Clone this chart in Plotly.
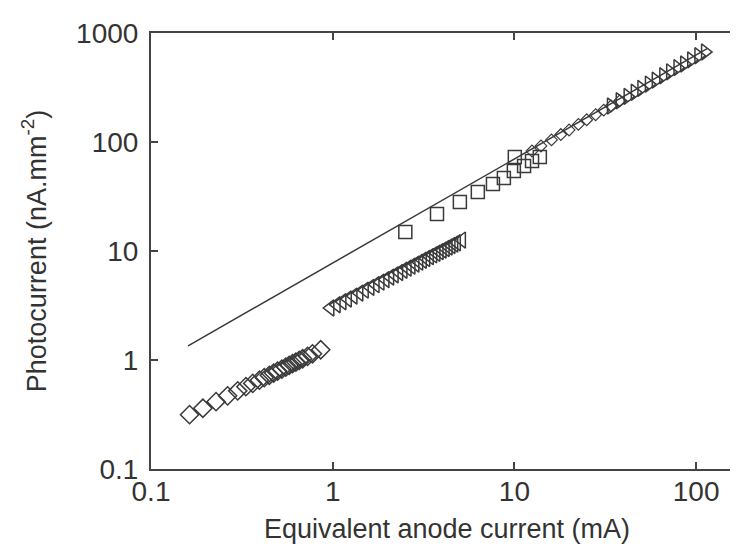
import plotly.graph_objects as go

# Series 1: open diamonds (low current)
dia_x = [0.163, 0.193, 0.228, 0.264, 0.300, 0.333, 0.363, 0.395, 0.420, 0.448, 0.473,
         0.497, 0.525, 0.552, 0.576, 0.601, 0.627, 0.654, 0.683, 0.727, 0.774, 0.859]
dia_y = [0.315, 0.361, 0.415, 0.469, 0.521, 0.569, 0.610, 0.653, 0.689, 0.724, 0.759,
         0.791, 0.826, 0.861, 0.893, 0.925, 0.957, 0.991, 1.026, 1.080, 1.140, 1.242]

# Series 2: open left triangles
tl_x = [0.97, 1.05, 1.13, 1.21, 1.30, 1.40, 1.50, 1.61, 1.72, 1.83, 1.95, 2.07, 2.19,
        2.32, 2.45, 2.58, 2.71, 2.85, 2.99, 3.13, 3.27, 3.42, 3.57, 3.72, 3.87, 4.02,
        4.18, 4.34, 4.50, 4.66, 4.82, 5.14]
tl_y = [3.00, 3.21, 3.42, 3.63, 3.86, 4.11, 4.37, 4.64, 4.91, 5.18, 5.47, 5.76, 6.04,
        6.35, 6.66, 6.96, 7.26, 7.58, 7.90, 8.22, 8.53, 8.87, 9.20, 9.53, 9.86, 10.19,
        10.54, 10.88, 11.23, 11.57, 11.91, 12.6]

# Series 3: open squares
sq_x = [2.51, 3.75, 5.01, 6.29, 7.62, 8.75, 9.93, 10.05, 11.3, 12.5, 13.8]
sq_y = [14.9, 21.8, 28.2, 34.8, 41.2, 46.8, 54.2, 72.8, 60.3, 67.0, 72.8]

# Series 4: small open diamonds on the line
d2_x = [12.5, 14, 16, 18, 20, 22.5, 25, 28, 31, 34, 38]
d2_y = [82.6, 92.0, 104.5, 117, 129, 145, 160, 178, 196, 214, 239]

# Series 5: open right triangles
tr_x = [34, 38, 42, 46, 50, 55, 60, 66, 72, 79, 86, 94, 103, 112]
tr_y = [214, 239, 262, 286, 310, 340, 369, 405, 440, 481, 520, 566, 619, 670]

# Reference line
line_x = [0.16, 115]
line_y = [1.35, 719]

tick_vals = [0.1, 1, 10, 100, 1000]
tick_text = ["0.1", "1", "10", "100", "1000"]

mc = "#3a3a3a"
fig = go.Figure()
fig.add_trace(go.Scatter(x=line_x, y=line_y, mode="lines",
                         line=dict(color=mc, width=1.5), showlegend=False))
fig.add_trace(go.Scatter(x=dia_x, y=dia_y, mode="markers",
                         marker=dict(symbol="diamond-open", size=14, color=mc,
                                     line=dict(width=1.5, color=mc)), showlegend=False))
fig.add_trace(go.Scatter(x=tl_x, y=tl_y, mode="markers",
                         marker=dict(symbol="triangle-left-open", size=14, color=mc,
                                     line=dict(width=1.5, color=mc)), showlegend=False))
fig.add_trace(go.Scatter(x=sq_x, y=sq_y, mode="markers",
                         marker=dict(symbol="square-open", size=13, color=mc,
                                     line=dict(width=1.5, color=mc)), showlegend=False))
fig.add_trace(go.Scatter(x=d2_x, y=d2_y, mode="markers",
                         marker=dict(symbol="diamond-open", size=9, color=mc,
                                     line=dict(width=1.2, color=mc)), showlegend=False))
fig.add_trace(go.Scatter(x=tr_x, y=tr_y, mode="markers",
                         marker=dict(symbol="triangle-right-open", size=14, color=mc,
                                     line=dict(width=1.5, color=mc)), showlegend=False))

tfont = dict(family="Liberation Sans, Arial, sans-serif", size=28, color="#333")
font = dict(family="Liberation Sans, Arial, sans-serif", size=27, color="#333")
fig.update_layout(
    width=738, height=550,
    margin=dict(l=143, r=1, t=25, b=89),
    paper_bgcolor="white", plot_bgcolor="white",
    font=font,
)
fig.update_xaxes(type="log", range=[-1, 2.258], tickvals=tick_vals, ticktext=tick_text,
                 showline=True, linecolor="#444", linewidth=2, mirror="ticks",
                 ticks="inside", ticklen=7, tickwidth=1.5, tickcolor="#444",
                 showgrid=False, zeroline=False, tickfont=tfont, ticklabelstandoff=-4,
                 title=dict(text="Equivalent anode current (mA)", font=font, standoff=14))
fig.update_yaxes(type="log", range=[-1, 3], tickvals=tick_vals, ticktext=tick_text,
                 showline=True, linecolor="#444", linewidth=2, mirror="ticks",
                 ticks="inside", ticklen=7, tickwidth=1.5, tickcolor="#444",
                 showgrid=False, zeroline=False, tickfont=tfont, ticklabelstandoff=5,
                 title=dict(text="Photocurrent (nA.mm<sup>-2</sup>)", font=font, standoff=22))

fig.write_html("out.html")
